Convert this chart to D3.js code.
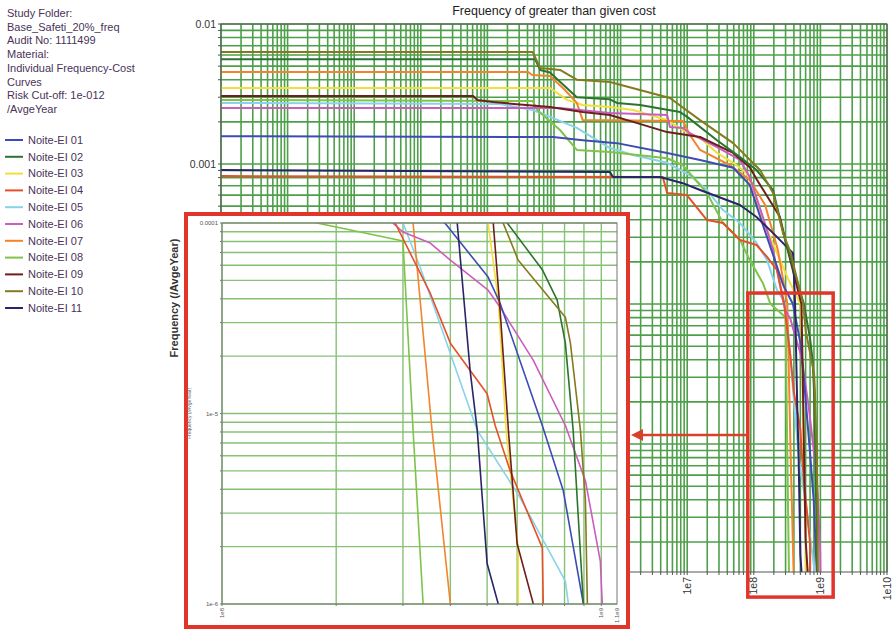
<!DOCTYPE html>
<html>
<head>
<meta charset="utf-8">
<script src="https://cdn.jsdelivr.net/npm/d3@7/dist/d3.min.js"></script>
<style>
    body { margin: 0; background: #fff; }
    svg { display: block; font-family: 'Liberation Sans', Arial, sans-serif; }
</style>
</head>
<body>
<div id="chart"></div>
<script>
// ---- data: [cost, frequency per average year] ----
const headerLines = ['Study Folder:', 'Base_Safeti_20%_freq', 'Audit No: 1111499', 'Material:',
    'Individual Frequency-Cost', 'Curves', 'Risk Cut-off: 1e-012', '/AvgeYear'];

const seriesNames = ['Noite-EI 01', 'Noite-EI 02', 'Noite-EI 03', 'Noite-EI 04', 'Noite-EI 05', 'Noite-EI 06',
    'Noite-EI 07', 'Noite-EI 08', 'Noite-EI 09', 'Noite-EI 10', 'Noite-EI 11'];

const noite01 = [[1, 1.58e-3], [9.7e4, 1.56e-3], [2.7e5, 1.48e-3], [8.8e5, 1.41e-3], [5.0e6, 1.2e-3], [1.56e7, 1.07e-3],
    [4.9e7, 9.4e-4], [8.7e7, 7.1e-4], [1.37e8, 3.67e-4], [1.95e8, 2.24e-4], [2.75e8, 1.37e-4], [3.87e8, 1.0e-4],
    [5.03e8, 5.2e-5], [5.41e8, 3.79e-5], [6.99e8, 8.65e-6], [7.94e8, 3.93e-6], [8.97e8, 1.0e-6]];
const noite02 = [[1, 5.6e-3], [5.2e4, 5.6e-3], [6.2e4, 4.7e-3], [8.7e4, 4.5e-3], [2.2e5, 3.0e-3], [6.9e5, 2.9e-3],
    [8.8e5, 2.73e-3], [1.96e6, 2.64e-3], [7.8e6, 2.35e-3], [1.0e7, 2.17e-3], [2.8e7, 1.48e-3], [6.2e7, 1.12e-3],
    [1.1e8, 9.06e-4], [1.95e8, 6.5e-4], [2.95e8, 2.87e-4], [5.65e8, 1.0e-4], [7.0e8, 5.66e-5], [7.65e8, 3.94e-5],
    [8.04e8, 2.34e-5], [8.43e8, 8.15e-6], [8.97e8, 1.0e-6]];
const noite03 = [[1, 3.49e-3], [8.7e4, 3.49e-3], [1.57e5, 2.87e-3], [2.7e5, 2.64e-3], [6.9e5, 2.55e-3], [1.54e6, 2.43e-3],
    [5.0e6, 2.06e-3], [8.6e6, 1.75e-3], [1.73e7, 1.48e-3], [2.8e7, 1.2e-3], [4.9e7, 1.02e-3], [7.9e7, 8.6e-4],
    [9.7e7, 6.52e-4], [1.47e8, 3.67e-4], [2.3e8, 2.24e-4], [3.3e8, 1.5e-4], [5.03e8, 1.0e-4], [5.35e8, 3.94e-5],
    [5.61e8, 8.15e-6], [5.93e8, 2.73e-6], [6.04e8, 1.97e-6], [6.04e8, 1.0e-6]];
const noite04 = [[1, 8.2e-4], [4.3e6, 8.07e-4], [5.0e6, 6.2e-4], [9.9e6, 6.0e-4], [1.98e7, 3.98e-4], [3.45e7, 3.79e-4],
    [6.2e7, 2.87e-4], [1.1e8, 2.64e-4], [1.58e8, 2.17e-4], [2.23e8, 1.75e-4], [2.86e8, 1.0e-4], [3.54e8, 4.28e-5],
    [4.0e8, 2.34e-5], [5.0e8, 1.27e-5], [5.25e8, 8.65e-6], [5.75e8, 5.01e-6], [6.99e8, 1.97e-6], [7.03e8, 1.0e-6]];
const noite05 = [[1, 2.73e-3], [1.55e4, 2.68e-3], [4.8e4, 2.43e-3], [8.7e4, 2.17e-3], [2.2e5, 1.81e-3], [6.9e5, 1.3e-3],
    [1.54e6, 1.16e-3], [5.0e6, 1.02e-3], [1.1e7, 8.3e-4], [1.98e7, 6.52e-4], [3.45e7, 4.69e-4], [6.2e7, 3.79e-4],
    [1.1e8, 2.73e-4], [1.58e8, 2.06e-4], [2.23e8, 1.26e-4], [3.0e8, 1.0e-4], [3.33e8, 5.86e-5], [4.71e8, 8.15e-6],
    [6.11e8, 3.61e-6], [8.04e8, 1.32e-6], [8.19e8, 1.0e-6]];
const noite06 = [[1, 2.51e-3], [1.23e5, 2.51e-3], [6.9e5, 2.31e-3], [5.0e6, 2.24e-3], [5.5e6, 1.84e-3], [8.6e6, 1.81e-3],
    [1.1e7, 1.66e-3], [2.8e7, 1.32e-3], [6.2e7, 1.07e-3], [8.7e7, 8.07e-4], [1.37e8, 4.18e-4], [1.95e8, 2.43e-4],
    [2.82e8, 1.0e-4], [3.0e8, 8.97e-5], [3.54e8, 7.85e-5], [4.0e8, 6.38e-5], [5.03e8, 4.44e-5], [5.41e8, 3.61e-5],
    [6.62e8, 1.9e-5], [8.04e8, 8.65e-6], [9.08e8, 4.44e-6], [9.94e8, 1.68e-6], [1.006e9, 1.0e-6]];
const noite07 = [[1, 4.54e-3], [4.1e4, 4.54e-3], [4.7e4, 4.32e-3], [8.7e4, 4.25e-3], [1.46e5, 3.38e-3], [2.2e5, 2.73e-3],
    [2.7e5, 2.06e-3], [8.6e6, 2.03e-3], [1.1e7, 1.61e-3], [1.56e7, 1.26e-3], [4.4e7, 9.8e-4], [8.7e7, 7.7e-4],
    [1.48e8, 5.1e-4], [2.3e8, 2.43e-4], [3.19e8, 1.0e-4], [3.57e8, 8.6e-6], [4.0e8, 1.0e-6]];
const noite08 = [[1, 2.87e-3], [4.8e4, 2.82e-3], [5.6e4, 2.43e-3], [1.23e5, 1.75e-3], [2.2e5, 1.26e-3], [6.9e5, 1.22e-3],
    [5.0e6, 1.1e-3], [8.6e6, 9.8e-4], [1.98e7, 6.2e-4], [3.45e7, 3.79e-4], [6.2e7, 2.87e-4], [8.7e7, 2.06e-4],
    [1.37e8, 1.41e-4], [1.78e8, 1.0e-4], [3.0e8, 8.04e-5], [3.19e8, 8.15e-6], [3.39e8, 1.0e-6]];
const noite09 = [[1, 3.06e-3], [6.1e3, 3.06e-3], [7.0e3, 2.87e-3], [1.21e4, 2.77e-3], [8.7e4, 2.55e-3], [2.7e5, 2.35e-3],
    [6.9e5, 2.24e-3], [1.54e6, 2.0e-3], [5.0e6, 1.69e-3], [1.56e7, 1.56e-3], [4.9e7, 1.2e-3], [8.7e7, 9.5e-4],
    [1.12e8, 7.7e-4], [2.47e8, 4.18e-4], [3.15e8, 2.55e-4], [5.19e8, 1.0e-4], [5.41e8, 3.48e-5], [5.69e8, 8.15e-6],
    [6.0e8, 2.07e-6], [6.62e8, 1.0e-6]];
const noite10 = [[1, 6.3e-3], [4.8e4, 6.3e-3], [6.2e4, 4.85e-3], [1.23e5, 4.7e-3], [2.2e5, 4.0e-3], [6.9e5, 3.85e-3],
    [5.5e6, 2.96e-3], [1.56e7, 2.06e-3], [4.9e7, 1.41e-3], [1.24e8, 9.06e-4], [1.95e8, 6.2e-4], [2.75e8, 3.2e-4],
    [3.5e8, 2.4e-4], [5.51e8, 1.0e-4], [6.04e8, 6.38e-5], [8.04e8, 3.2e-5], [8.29e8, 2.34e-5], [8.81e8, 8.15e-6],
    [9.08e8, 3.5e-6], [9.19e8, 1.0e-6]];
const noite11 = [[1, 9.06e-4], [6.9e5, 8.77e-4], [7.7e5, 8.07e-4], [3.9e6, 8.07e-4], [8.6e6, 7.3e-4], [1.56e7, 6.52e-4],
    [6.2e7, 5.1e-4], [1.1e8, 4.18e-4], [1.95e8, 3.21e-4], [3.15e8, 2.55e-4], [3.88e8, 2.31e-4], [4.17e8, 1.0e-4],
    [4.51e8, 1.68e-5], [4.71e8, 8.15e-6], [5.0e8, 1.63e-6], [5.35e8, 1.0e-6]];

const mainCostDomain = [1, 1e10];
const mainFreqDomain = [1.22e-6, 0.01];
const insetCostDomain = [1e8, 1.1e9];
const insetFreqDomain = [1e-6, 1e-4];
const insetCostLabels = [1e8, 1e9, 1.1e9];
const insetFreqLabels = [1e-4, 1e-5, 1e-6];

const allSeries = [noite01, noite02, noite03, noite04, noite05, noite06, noite07, noite08, noite09, noite10, noite11];
const seriesColors = ['#3d4cb4', '#2d7330', '#f2df3a', '#e5502a', '#88d2ea', '#cc5cc0',
    '#f4832c', '#7fc34a', '#6e1e1e', '#857a20', '#2b2468'];
// draw order: light ones first so the dark ones sit on top
const drawOrder = [2, 4, 7, 6, 5, 3, 0, 8, 10, 1, 9];

const width = 893, height = 630;

const svg = d3.select('#chart')
    .append('svg')
    .attr('width', width)
    .attr('height', height);

// every multiple 1..9 of each decade inside the domain
function logValues(domain) {
    const out = [];
    const lo = Math.floor(Math.log10(domain[0]));
    const hi = Math.ceil(Math.log10(domain[1]));
    for (let k = lo; k <= hi; k++) {
        for (let m = 1; m <= 9; m++) {
            const v = +(m * Math.pow(10, k)).toPrecision(6);
            if (v >= domain[0] * 0.9999 && v <= domain[1] * 1.0001) out.push(v);
        }
    }
    return out;
}

function isPow10(v) {
    const l = Math.log10(v);
    return Math.abs(l - Math.round(l)) < 1e-9;
}

function freqFormat(v) {
    const e = Math.round(Math.log10(v));
    if (e >= -4) return v.toFixed(-e);
    return '1e' + e;
}

function drawPanel(root, opts) {
    const x = opts.x, y = opts.y;
    const [left, right] = x.range();
    const [bottom, top] = y.range();

    root.append('clipPath').attr('id', opts.id)
        .append('rect')
        .attr('x', left).attr('y', top)
        .attr('width', right - left).attr('height', bottom - top);

    const grid = root.append('g')
        .attr('stroke', opts.gridColor)
        .attr('stroke-width', opts.gridWidth);

    grid.selectAll('.vgrid')
        .data(logValues(x.domain()))
        .enter()
        .append('line')
        .attr('x1', d => x(d)).attr('x2', d => x(d))
        .attr('y1', top).attr('y2', bottom);

    grid.selectAll('.hgrid')
        .data(logValues(y.domain()))
        .enter()
        .append('line')
        .attr('x1', left).attr('x2', right)
        .attr('y1', d => y(d)).attr('y2', d => y(d));

    const line = d3.line()
        .x(d => x(d[0]))
        .y(d => y(d[1]));

    root.append('g')
        .attr('clip-path', `url(#${opts.id})`)
        .selectAll('path')
        .data(drawOrder)
        .enter()
        .append('path')
        .attr('d', i => line(allSeries[i]))
        .attr('fill', 'none')
        .attr('stroke', i => seriesColors[i])
        .attr('stroke-width', opts.lineWidth)
        .attr('stroke-linejoin', 'round');

    // frame
    root.append('rect')
        .attr('x', left).attr('y', top)
        .attr('width', right - left).attr('height', bottom - top)
        .attr('fill', 'none')
        .attr('stroke', opts.frameColor)
        .attr('stroke-width', 1);

    // small outward ticks
    const ticks = root.append('g').attr('stroke', opts.frameColor).attr('stroke-width', 1);
    ticks.selectAll('.yt')
        .data(logValues(y.domain()))
        .enter()
        .append('line')
        .attr('x1', left - opts.tickLen).attr('x2', left)
        .attr('y1', d => y(d)).attr('y2', d => y(d));
    ticks.selectAll('.xt')
        .data(logValues(x.domain()))
        .enter()
        .append('line')
        .attr('x1', d => x(d)).attr('x2', d => x(d))
        .attr('y1', bottom).attr('y2', bottom + opts.tickLen);

    root.selectAll('.ylab')
        .data(opts.yLabels)
        .enter()
        .append('text')
        .attr('x', left - opts.tickLen - 2)
        .attr('y', d => y(d))
        .attr('dy', '0.35em')
        .attr('text-anchor', 'end')
        .style('font-size', opts.fontSize + 'px')
        .style('fill', opts.textColor)
        .text(freqFormat);

    root.selectAll('.xlab')
        .data(opts.xLabels)
        .enter()
        .append('text')
        .attr('transform', d => `translate(${x(d)},${bottom + opts.tickLen + 2}) rotate(-90)`)
        .attr('dy', '0.35em')
        .attr('text-anchor', 'end')
        .style('font-size', opts.fontSize + 'px')
        .style('fill', opts.textColor)
        .text(opts.xFormat);
}

// ---- main chart ----
const xMain = d3.scaleLog().domain(mainCostDomain).range([221, 887]);
const yMain = d3.scaleLog().domain(mainFreqDomain).range([572, 24]);

drawPanel(svg.append('g'), {
    id: 'clipMain', x: xMain, y: yMain,
    gridColor: '#4e9f4a', gridWidth: 1.6, lineWidth: 2,
    frameColor: '#555', textColor: '#333', fontSize: 10.5, tickLen: 3,
    yLabels: logValues(mainFreqDomain).filter(isPow10),
    xLabels: logValues(mainCostDomain).filter(isPow10),
    xFormat: d => '1e' + Math.round(Math.log10(d))
});

svg.append('text')
    .attr('x', (221 + 887) / 2)
    .attr('y', 15)
    .attr('text-anchor', 'middle')
    .style('font-size', '12.5px')
    .style('fill', '#222')
    .text('Frequency of greater than given cost');

svg.append('text')
    .attr('transform', `translate(178,${(24 + 572) / 2}) rotate(-90)`)
    .attr('text-anchor', 'middle')
    .style('font-size', '11px')
    .style('font-weight', 'bold')
    .style('fill', '#333')
    .text('Frequency (/AvgeYear)');

// ---- header text and legend ----
svg.selectAll('.header')
    .data(headerLines)
    .enter()
    .append('text')
    .attr('x', 7)
    .attr('y', (d, i) => 17 + i * 13.7)
    .style('font-size', '11px')
    .style('fill', '#4a3358')
    .text(d => d);

const legend = svg.selectAll('.legend-item')
    .data(seriesNames)
    .enter()
    .append('g')
    .attr('class', 'legend-item')
    .attr('transform', (d, i) => `translate(0,${140 + i * 16.8})`);

legend.append('line')
    .attr('x1', 5).attr('x2', 23)
    .attr('stroke', (d, i) => seriesColors[i])
    .attr('stroke-width', 2);

legend.append('text')
    .attr('x', 28)
    .attr('dy', '0.35em')
    .style('font-size', '11px')
    .style('fill', '#4a3358')
    .text(d => d);

// ---- zoom box and arrow on the main chart ----
const boxX0 = xMain(insetCostDomain[0]) - 6, boxX1 = xMain(insetCostDomain[1]) + 10;
const boxY0 = yMain(insetFreqDomain[1]) - 11, boxY1 = yMain(insetFreqDomain[0]) + 13;

svg.append('rect')
    .attr('x', boxX0).attr('y', boxY0)
    .attr('width', boxX1 - boxX0).attr('height', boxY1 - boxY0)
    .attr('fill', 'none')
    .attr('stroke', '#e2352a')
    .attr('stroke-width', 3.5);

// ---- inset (magnified region) ----
const insetBox = { x: 186, y: 214, w: 442, h: 413 };

svg.append('rect')
    .attr('x', insetBox.x).attr('y', insetBox.y)
    .attr('width', insetBox.w).attr('height', insetBox.h)
    .attr('fill', '#fff')
    .attr('stroke', '#e2352a')
    .attr('stroke-width', 4);

const arrowY = 435;
svg.append('line')
    .attr('x1', boxX0).attr('x2', insetBox.x + insetBox.w + 12)
    .attr('y1', arrowY).attr('y2', arrowY)
    .attr('stroke', '#d9402c')
    .attr('stroke-width', 2.5);
svg.append('path')
    .attr('d', d3.line()([[insetBox.x + insetBox.w + 3, arrowY], [insetBox.x + insetBox.w + 15, arrowY - 6],
        [insetBox.x + insetBox.w + 15, arrowY + 6]]) + 'Z')
    .attr('fill', '#d9402c');

const xInset = d3.scaleLog().domain(insetCostDomain).range([222, 617]);
const yInset = d3.scaleLog().domain(insetFreqDomain).range([604, 223]);

drawPanel(svg.append('g'), {
    id: 'clipInset', x: xInset, y: yInset,
    gridColor: '#86c275', gridWidth: 1.4, lineWidth: 1.6,
    frameColor: '#777', textColor: '#555', fontSize: 6, tickLen: 2,
    yLabels: insetFreqLabels,
    xLabels: insetCostLabels,
    xFormat: d => d3.format('.2~e')(d).replace('e+', 'e')
});

svg.append('text')
    .attr('transform', `translate(191,${(223 + 604) / 2}) rotate(-90)`)
    .attr('text-anchor', 'middle')
    .style('font-size', '5px')
    .style('fill', '#666')
    .text('Frequency (/AvgeYear)');
</script>
</body>
</html>
